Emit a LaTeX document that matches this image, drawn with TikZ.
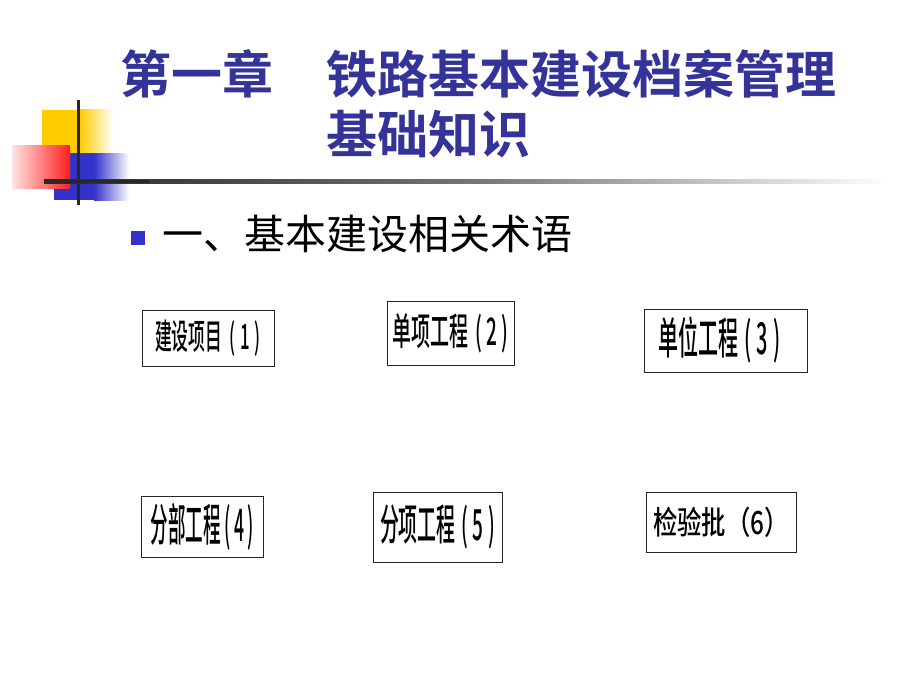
\documentclass[tikz,border=0pt]{standalone}
\usepackage{fontspec}
\newfontfamily\cjk{Noto Sans CJK SC}
\newfontfamily\cjkbold{Noto Sans CJK SC Bold}
\newfontfamily\cjkA[FakeStretch=0.48]{Noto Sans CJK SC Medium}
\newfontfamily\cjkB[FakeStretch=0.50]{Noto Sans CJK SC Medium}
\newfontfamily\cjkC[FakeStretch=0.455]{Noto Sans CJK SC Medium}
\newfontfamily\cjkD[FakeStretch=0.39]{Noto Sans CJK SC Medium}
\newfontfamily\cjkE[FakeStretch=0.44]{Noto Sans CJK SC Medium}
\newfontfamily\cjkF[FakeStretch=0.76]{Noto Sans CJK SC Medium}
\newcommand{\termlabel}[4]{#1\hspace{#3}(\hspace{#4}#2\hspace{#4})}
\definecolor{titleblue}{RGB}{51,51,153}
\definecolor{decoyellow}{RGB}{255,204,0}
\definecolor{decoblue}{RGB}{51,51,204}
\definecolor{decored}{RGB}{255,30,30}
\definecolor{lineGray}{RGB}{40,40,40}
\tikzset{
  termbox/.style={draw=black!85, line width=0.9pt, fill=white, inner sep=0pt, align=center},
  titletext/.style={text=titleblue, font=\cjkbold\fontsize{51}{56}\selectfont, inner sep=0pt, anchor=west},
}
\begin{document}
\begin{tikzpicture}[x=1pt,y=-1pt]
\useasboundingbox (0,0) rectangle (920,690);
\fill[white] (0,0) rectangle (920,690);
% decoration
\fill[decoyellow] (42,110) rectangle (80,153);
\shade[left color=decoyellow, right color=white] (80,110) rectangle (113,153);
\fill[decoblue] (54,153) rectangle (94,200);
\shade[left color=decoblue, right color=white] (94,153) rectangle (129,200);
\shade[left color=decored!12, right color=decored] (12,145) rectangle (70,188);
\draw[lineGray, line width=3pt] (78,100) -- (78,205);
\shade[left color=lineGray, right color=white, middle color=black!55] (44,179.5) rectangle (890,183);
\fill[lineGray] (44,179.5) rectangle (150,183);
% title
\node[titletext] (t1) at (120,74) {第一章};
\node[titletext] (t2) at (326,74) {铁路基本建设档案管理};
\node[titletext] (t3) at (326,134) {基础知识};
% bullet
\fill[decoblue] (131,231) rectangle (145,245);
\node[anchor=west, inner sep=0pt, font=\cjk\fontsize{41}{44}\selectfont] (sub) at (162,234) {一、基本建设相关术语};
% boxes
\node[termbox, minimum width=132, minimum height=56, font=\cjkA\fontsize{35}{37}\selectfont] (b1) at (208,338) {\termlabel{建设项目}{1}{7pt}{5pt}};
\node[termbox, minimum width=127, minimum height=64, font=\cjkB\fontsize{38}{40}\selectfont] (b2) at (450.5,333) {\termlabel{单项工程}{2}{7pt}{4.5pt}};
\node[termbox, minimum width=163, minimum height=63, font=\cjkC\fontsize{44}{46}\selectfont] (b3) at (725.5,340.5) {\termlabel{单位工程}{3}{6pt}{5pt}\hspace{12pt}};
\node[termbox, minimum width=122, minimum height=61, font=\cjkD\fontsize{45}{47}\selectfont] (b4) at (202,527) {\termlabel{分部工程}{4}{4pt}{3pt}};
\node[termbox, minimum width=129, minimum height=70, font=\cjkE\fontsize{43}{45}\selectfont] (b5) at (437.5,527) {\termlabel{分项工程}{5}{6pt}{4.5pt}};
\node[termbox, minimum width=150, minimum height=60, font=\cjkF\fontsize{32}{34}\selectfont] (b6) at (721,522) {检验批（6）};
\end{tikzpicture}
\end{document}
